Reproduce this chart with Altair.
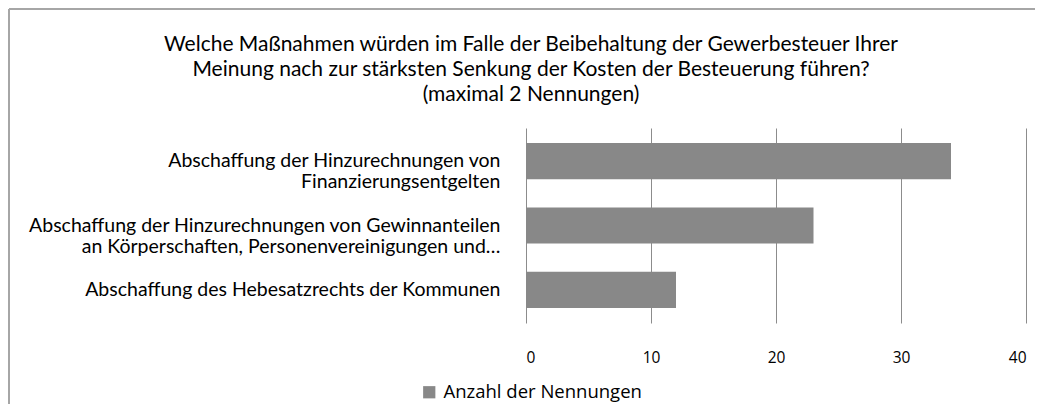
import altair as alt
import pandas as pd

categories = [
    "Abschaffung der Hinzurechnungen von|Finanzierungsentgelten",
    "Abschaffung der Hinzurechnungen von Gewinnanteilen|an Körperschaften, Personenvereinigungen und…",
    "Abschaffung des Hebesatzrechts der Kommunen",
]
values = [34, 23, 12]
series_name = "Anzahl der Nennungen"
x_ticks = [0, 10, 20, 30, 40]
title_lines = [
    "Welche Maßnahmen würden im Falle der Beibehaltung der Gewerbesteuer  Ihrer",
    "Meinung nach zur stärksten Senkung der Kosten der Besteuerung führen?",
    "(maximal 2 Nennungen)",
]

df = pd.DataFrame({"cat": categories, "val": values, "series": [series_name] * len(values)})
frame_df = pd.DataFrame({"k": [0]})

LABEL_FONT = "Lato"
NUM_FONT = "Open Sans"
GREY = "#888888"

bars = alt.Chart(df).mark_bar(color=GREY).encode(
    x=alt.X(
        "val:Q",
        scale=alt.Scale(domain=[0, 40], nice=False),
        axis=alt.Axis(
            values=x_ticks, title=None, domain=False, ticks=False, grid=True,
            gridColor="#8c8c8c", gridWidth=1, gridOpacity=1,
            labelFont=NUM_FONT, labelFontSize=15.5, labelColor="#000000",
            labelPadding=27,
        ),
    ),
    y=alt.Y(
        "cat:N", sort=None,
        scale=alt.Scale(paddingInner=0.44, paddingOuter=0.235),
        axis=alt.Axis(
            title=None, domain=False, ticks=False, grid=False,
            labelFont=LABEL_FONT, labelFontSize=19.5, labelColor="#000000",
            labelPadding=26, labelLimit=700, labelLineHeight=21,
            labelExpr="split(datum.label, '|')",
        ),
    ),
    color=alt.Color(
        "series:N",
        scale=alt.Scale(range=[GREY]),
        legend=alt.Legend(
            title=None, orient="none", legendX=-106, legendY=255,
            symbolType="square", symbolSize=150, symbolStrokeWidth=0,
            symbolOpacity=1, padding=0, labelLimit=400,
            labelFont=NUM_FONT, labelFontSize=18.5, labelColor="#000000",
            labelOffset=5,
        ),
    ),
)

top_rule = alt.Chart(frame_df).mark_rule(color="#a6a6a6", strokeWidth=2).encode(
    x=alt.value(-517), x2=alt.value(520), y=alt.value(-119)
)
left_rule = alt.Chart(frame_df).mark_rule(color="#a6a6a6", strokeWidth=2).encode(
    x=alt.value(-517), y=alt.value(-119), y2=alt.value(300)
)

chart = alt.layer(bars, top_rule, left_rule).properties(
    width=500,
    height=195,
    autosize=alt.AutoSizeParams(type="none"),
    padding={"left": 518, "top": 120, "right": 9, "bottom": 81},
    title=alt.TitleParams(
        text=title_lines, anchor="middle", frame="group", dx=-245, dy=97,
        font=LABEL_FONT, fontSize=21, fontWeight="normal", color="#000000",
        lineHeight=25, offset=0,
    ),
).configure_view(stroke=None)

chart.save("out.html", embed_options={"renderer": "svg", "actions": False})
